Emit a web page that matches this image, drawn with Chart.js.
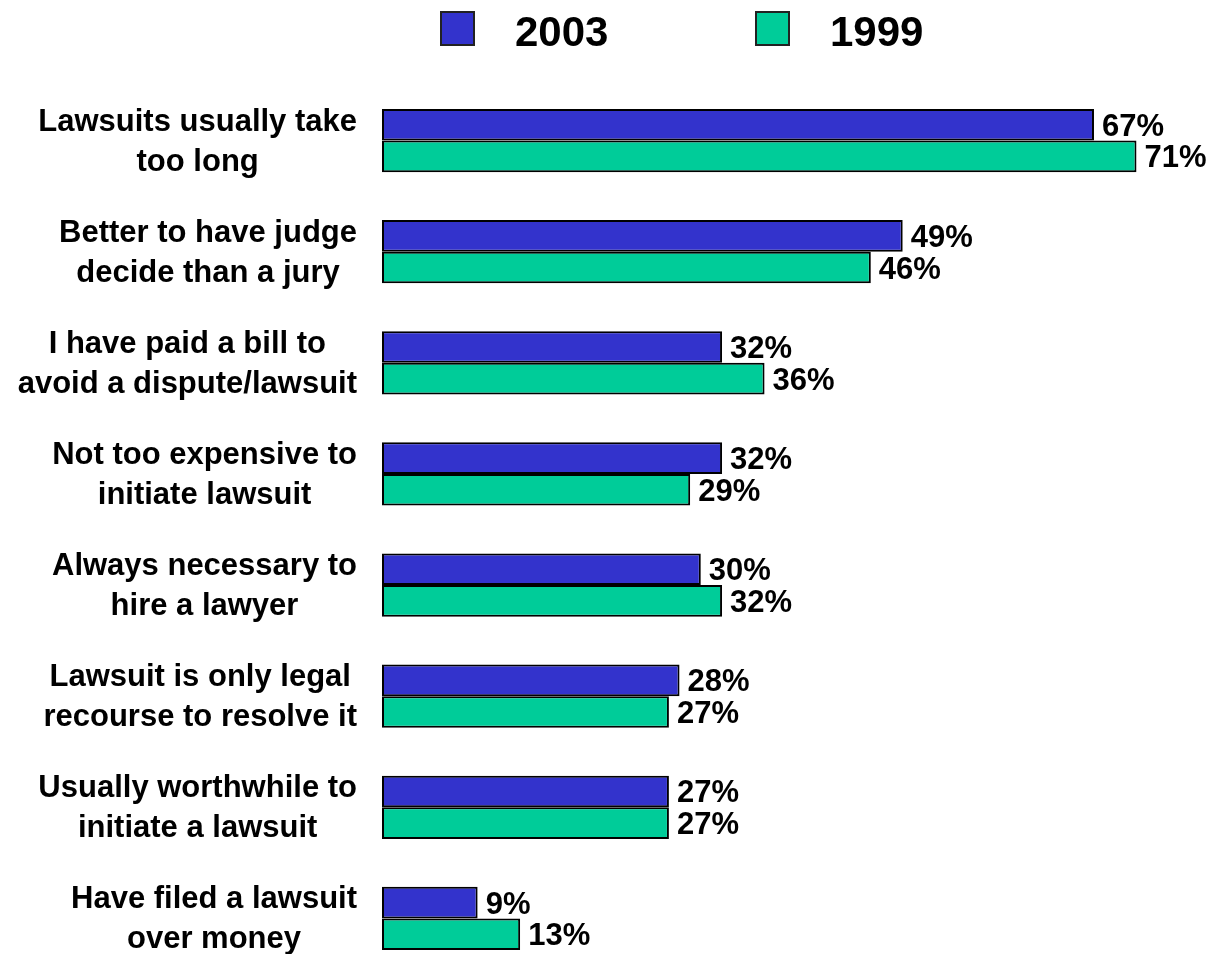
<!DOCTYPE html>
<html>
<head>
<meta charset="utf-8">
<script src="https://cdn.jsdelivr.net/npm/chart.js@4"></script>
<style>
  html, body { margin: 0; padding: 0; background: #fff; overflow: hidden; }
  #wrap { position: relative; width: 1212px; height: 975px; }
</style>
</head>
<body>
<div id="wrap"><canvas id="chart"></canvas></div>
<script>
/* Survey attitudes toward lawsuits, 2003 vs 1999 */

var FONT = "'Liberation Sans', Arial, sans-serif";

var CATEGORIES = [
  ['Lawsuits usually take', 'too long'],
  ['Better to have judge', 'decide than a jury'],
  ['I have paid a bill to', 'avoid a dispute/lawsuit'],
  ['Not too expensive to', 'initiate lawsuit'],
  ['Always necessary to', 'hire a lawyer'],
  ['Lawsuit is only legal', 'recourse to resolve it'],
  ['Usually worthwhile to', 'initiate a lawsuit'],
  ['Have filed a lawsuit', 'over money']
];
var SERIES_NAMES = ['2003', '1999'];
var VALUES_2003 = [67, 49, 32, 32, 30, 28, 27, 9];
var VALUES_1999 = [71, 46, 36, 29, 32, 27, 27, 13];
var COLORS = ['#3333CC', '#00CC99'];

/* Legend drawn above the plot: box, then bold year */
var legendPlugin = {
  id: 'topLegend',
  afterDraw: function(chart) {
    var ctx = chart.ctx;
    ctx.save();
    ctx.font = 'bold 42px ' + FONT;
    ctx.textAlign = 'left';
    ctx.textBaseline = 'alphabetic';
    chart.data.datasets.forEach(function(ds, i) {
      var x = 441 + i * 315;
      ctx.fillStyle = ds.backgroundColor;
      ctx.fillRect(x, 12, 33, 33);
      ctx.lineWidth = 2;
      ctx.strokeStyle = '#222';
      ctx.strokeRect(x, 12, 33, 33);
      ctx.fillStyle = '#000';
      ctx.fillText(ds.label, x + 74, 46);
    });
    ctx.restore();
  }
};

/* Category labels: block right-aligned to the axis, lines centred within it */
var categoryLabelPlugin = {
  id: 'categoryLabels',
  afterDraw: function(chart) {
    var ctx = chart.ctx, yScale = chart.scales.y;
    var right = chart.chartArea.left - 25;
    var lineGap = 40;
    ctx.save();
    ctx.font = 'bold 31px ' + FONT;
    ctx.fillStyle = '#000';
    ctx.textAlign = 'center';
    ctx.textBaseline = 'alphabetic';
    chart.data.labels.forEach(function(lines, i) {
      var cy = yScale.getPixelForTick(i);
      var w = 0;
      lines.forEach(function(l) { w = Math.max(w, ctx.measureText(l).width); });
      var cx = right - w / 2;
      var first = cy + 10 - (lines.length - 1) * lineGap / 2;
      lines.forEach(function(l, j) { ctx.fillText(l, cx, first + j * lineGap); });
    });
    ctx.restore();
  }
};

/* Value labels at the end of each bar */
var valueLabelPlugin = {
  id: 'valueLabels',
  afterDatasetsDraw: function(chart) {
    var ctx = chart.ctx;
    ctx.save();
    ctx.font = 'bold 31px ' + FONT;
    ctx.fillStyle = '#000';
    ctx.textAlign = 'left';
    ctx.textBaseline = 'alphabetic';
    chart.data.datasets.forEach(function(ds, di) {
      chart.getDatasetMeta(di).data.forEach(function(bar, i) {
        ctx.fillText(ds.data[i] + '%', bar.x + 8, bar.y + 11);
      });
    });
    ctx.restore();
  }
};

var values = [VALUES_2003, VALUES_1999];

new Chart(document.getElementById('chart'), {
  type: 'bar',
  data: {
    labels: CATEGORIES,
    datasets: SERIES_NAMES.map(function(name, i) {
      return {
        label: name, data: values[i], backgroundColor: COLORS[i],
        borderColor: '#000', borderWidth: 2, borderSkipped: false,
        categoryPercentage: 0.57, barPercentage: 1.0
      };
    })
  },
  plugins: [legendPlugin, categoryLabelPlugin, valueLabelPlugin],
  options: {
    indexAxis: 'y', responsive: true, maintainAspectRatio: false, animation: false,
    layout: { padding: { top: 85, right: 33, bottom: 1, left: 0 } },
    plugins: { legend: { display: false }, tooltip: { enabled: false } },
    scales: {
      x: { display: false, min: 0, max: 75 },
      y: {
        grid: { display: false }, border: { display: false },
        ticks: { display: false },
        afterFit: function(s) { s.width = 382; }
      }
    }
  }
});
</script>
</body>
</html>
